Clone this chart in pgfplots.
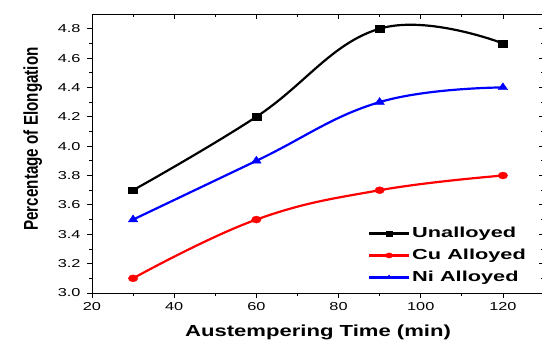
\documentclass[border=0pt]{standalone}
\usepackage{fontspec}
\setmainfont{Liberation Sans}
\usepackage{pgfplots}
\pgfplotsset{compat=1.18}
\newfontfamily\tickfont[FakeStretch=1.42]{Liberation Sans}
\newfontfamily\xlabfont[FakeStretch=1.38]{Liberation Sans}
\newfontfamily\leglabfont[FakeStretch=1.5]{Liberation Sans}
\newfontfamily\ylabfont[FakeStretch=0.76]{Liberation Sans}
\begin{document}
\begin{tikzpicture}
\pgfplotsset{
  common/.style={
    scale only axis, width=452pt, height=279pt,
    xmin=20, xmax=130, ymin=3.0, ymax=4.9,
    xtick={20,40,...,120}, minor x tick num=1,
    ytick={3.0,3.2,...,4.81}, minor y tick num=1,
    axis line style={line width=0.9pt},
    major tick length=5pt, minor tick length=3pt,
    every tick/.style={black, line width=0.8pt},
  }
}
\begin{axis}[common, name=ax,
  tick align=outside, xtick pos=left, ytick pos=left,
  /pgf/number format/assume math mode=true,
  yticklabel style={/pgf/number format/fixed, /pgf/number format/fixed zerofill, /pgf/number format/precision=1, xshift=-3pt},
  tick label style={font=\tickfont\fontsize{11.5}{12}\selectfont, text=black},
  xticklabel style={yshift=-1pt},
  xlabel={Austempering Time (min)},
  xlabel style={font=\xlabfont\bfseries\fontsize{16}{18}\selectfont, at={(axis description cs:0.5,0)}, anchor=base, yshift=-43.7pt},
  ylabel={Percentage of Elongation},
  ylabel style={font=\ylabfont\bfseries\fontsize{20}{22}\selectfont, at={(axis description cs:-0.131,0.552)}, anchor=center},
  legend style={draw=none, fill=none, at={(axis cs:86.4,3.475)}, anchor=north west,
    font=\leglabfont\bfseries\fontsize{14.5}{16}\selectfont, row sep=6pt,
    /tikz/every even column/.append style={column sep=2pt}},
  legend cell align=left,
  legend image code/.code={
    \draw[#1, mark=none] (0pt,0pt) -- (40pt,0pt);
    \draw[#1, only marks, mark size=2.6pt] plot coordinates {(20pt,0pt)};},
]
\addplot[black, line width=2.2pt, smooth, tension=0.7, mark=square*, mark size=3.4pt, mark options={xscale=1.3, solid, line width=0.4pt}]
  coordinates {(30,3.7) (60,4.2) (90,4.8) (120,4.7)};
\addlegendentry{Unalloyed}
\addplot[red, line width=2.2pt, smooth, tension=0.7, mark=*, mark size=3.5pt, mark options={xscale=1.35, solid, line width=0.4pt}]
  coordinates {(30,3.1) (60,3.5) (90,3.7) (120,3.8)};
\addlegendentry{Cu Alloyed}
\addplot[blue, line width=2.2pt, smooth, tension=0.7, mark=triangle*, mark size=4.6pt, mark options={xscale=1.2, solid, line width=0.4pt}]
  coordinates {(30,3.5) (60,3.9) (90,4.3) (120,4.4)};
\addlegendentry{Ni Alloyed}
\end{axis}
\begin{axis}[common, tick align=inside, xtick pos=right, ytick pos=right,
  xticklabels={}, yticklabels={}]
\end{axis}
\pgfresetboundingbox
\path[use as bounding box] ([shift={(-92pt,-48pt)}]ax.south west) rectangle ++(542pt,341pt);
\end{tikzpicture}
\end{document}
